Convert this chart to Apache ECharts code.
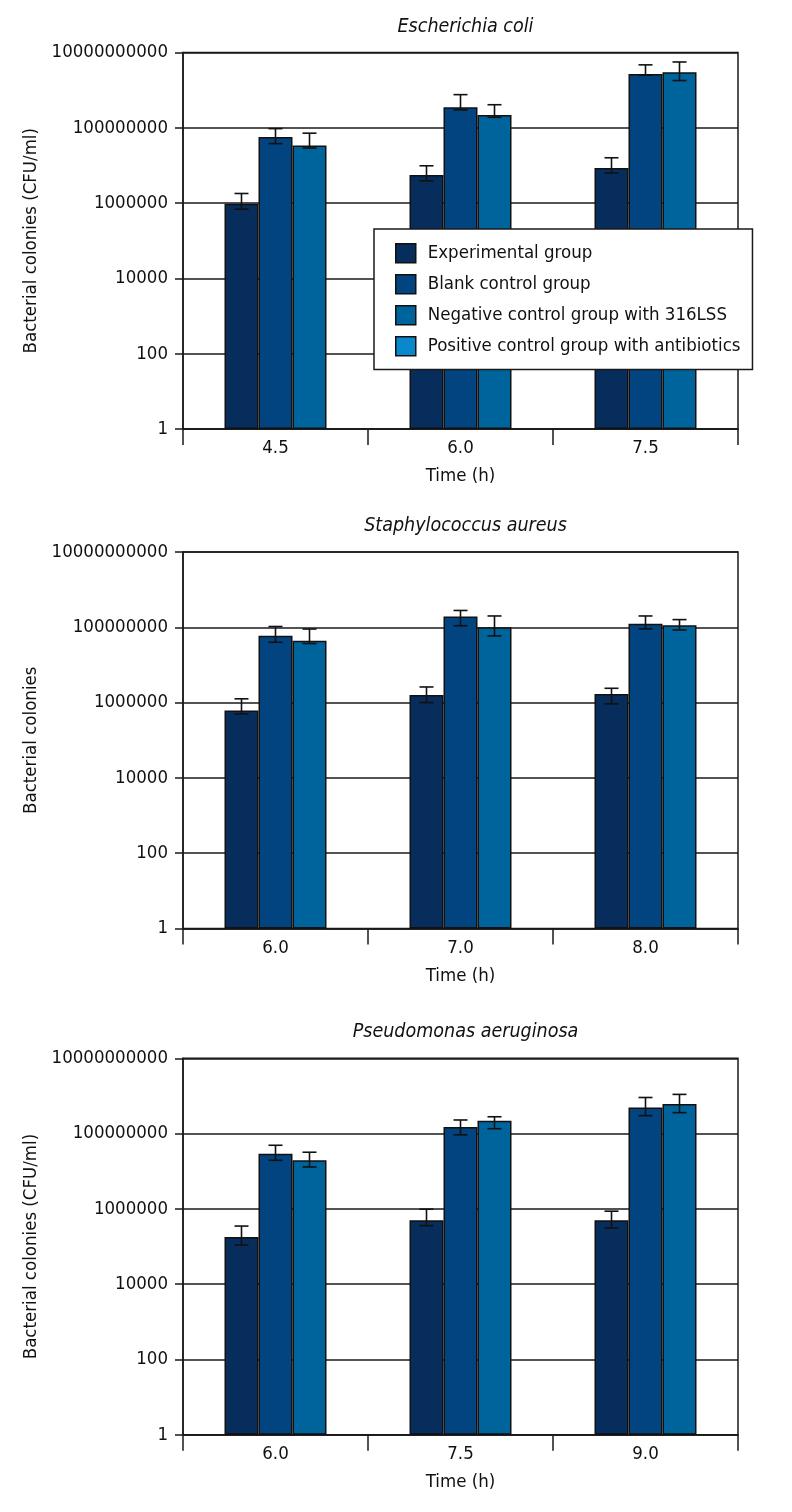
<!DOCTYPE html>
<html>
<head>
<meta charset="utf-8">
<script src="https://cdn.jsdelivr.net/npm/echarts@6/dist/echarts.min.js"></script>
<style>
html,body{margin:0;padding:0;background:#fff;}
#chart{width:792px;height:1512px;}
</style>
</head>
<body>
<div id="chart"></div>
<script>
// ---------- data ----------
const seriesNames = ['Experimental group', 'Blank control group', 'Negative control group with 316LSS', 'Positive control group with antibiotics'];
const panelTitles = ['Escherichia coli', 'Staphylococcus aureus', 'Pseudomonas aeruginosa'];
const yAxisTitles = ['Bacterial colonies (CFU/ml)', 'Bacterial colonies', 'Bacterial colonies (CFU/ml)'];
const xAxisTitle = 'Time (h)';

const ecoliTimes = ['4.5', '6.0', '7.5'];
const ecoliExperimental = [9.6e5, 5.6e6, 8.5e6];
const ecoliExperimentalHigh = [1.8e6, 9.8e6, 1.6e7];
const ecoliExperimentalLow = [6.9e5, 3.9e6, 6.3e6];
const ecoliBlank = [5.7e7, 3.5e8, 2.7e9];
const ecoliBlankHigh = [9.5e7, 7.6e8, 4.7e9];
const ecoliBlankLow = [3.8e7, 3.0e8, 2.5e9];
const ecoliNegative = [3.4e7, 2.2e8, 3.0e9];
const ecoliNegativeHigh = [7.2e7, 4.1e8, 5.6e9];
const ecoliNegativeLow = [2.9e7, 1.9e8, 1.8e9];

const staphTimes = ['6.0', '7.0', '8.0'];
const staphExperimental = [6.2e5, 1.6e6, 1.7e6];
const staphExperimentalHigh = [1.26e6, 2.6e6, 2.4e6];
const staphExperimentalLow = [5.0e5, 1.0e6, 9.3e5];
const staphBlank = [6.0e7, 1.95e8, 1.25e8];
const staphBlankHigh = [1.05e8, 2.8e8, 2.0e8];
const staphBlankLow = [4.0e7, 1.1e8, 9.1e7];
const staphNegative = [4.4e7, 1.0e8, 1.13e8];
const staphNegativeHigh = [9.0e7, 2.0e8, 1.6e8];
const staphNegativeLow = [3.7e7, 5.9e7, 8.5e7];

const pseudoTimes = ['6.0', '7.5', '9.0'];
const pseudoExperimental = [1.8e5, 5.0e5, 5.0e5];
const pseudoExperimentalHigh = [3.5e5, 9.8e5, 8.7e5];
const pseudoExperimentalLow = [1.1e5, 3.6e5, 3.1e5];
const pseudoBlank = [2.9e7, 1.5e8, 4.9e8];
const pseudoBlankHigh = [4.9e7, 2.3e8, 9.1e8];
const pseudoBlankLow = [1.95e7, 9.3e7, 3.0e8];
const pseudoNegative = [1.95e7, 2.2e8, 6.1e8];
const pseudoNegativeHigh = [3.2e7, 2.8e8, 1.1e9];
const pseudoNegativeLow = [1.3e7, 1.35e8, 3.6e8];

const yMin = 1, yMax = 1e10, yLogInterval = 2;

// ---------- styling ----------
const FONT = "'Liberation Sans Narrow', 'DejaVu Sans Condensed', 'Arial Narrow', sans-serif";
const FS = 18.5;
const colors = ['#062d5b', '#02447f', '#00649c', '#0a88cc'];
const BAR_W = 34;
const gridTops = [52.5, 552, 1058.3];
const GRID_H = 376.5;
const GRID_LEFT = 183, GRID_RIGHT = 54;

const panels = [
  { cats: ecoliTimes, vals: [ecoliExperimental, ecoliBlank, ecoliNegative],
    hi: [ecoliExperimentalHigh, ecoliBlankHigh, ecoliNegativeHigh],
    lo: [ecoliExperimentalLow, ecoliBlankLow, ecoliNegativeLow] },
  { cats: staphTimes, vals: [staphExperimental, staphBlank, staphNegative],
    hi: [staphExperimentalHigh, staphBlankHigh, staphNegativeHigh],
    lo: [staphExperimentalLow, staphBlankLow, staphNegativeLow] },
  { cats: pseudoTimes, vals: [pseudoExperimental, pseudoBlank, pseudoNegative],
    hi: [pseudoExperimentalHigh, pseudoBlankHigh, pseudoNegativeHigh],
    lo: [pseudoExperimentalLow, pseudoBlankLow, pseudoNegativeLow] }
];

const grids = [], xAxes = [], yAxes = [], titles = [], series = [];

function renderErr(params, api) {
  const i = api.value(0), lo = api.value(1), hi = api.value(2), s = api.value(3);
  const pLo = api.coord([i, lo]);
  const pHi = api.coord([i, hi]);
  const x = pLo[0] + (s - 1) * BAR_W;
  const cap = 7;
  const st = { stroke: '#111', lineWidth: 1.6 };
  return {
    type: 'group',
    children: [
      { type: 'line', shape: { x1: x, y1: pLo[1], x2: x, y2: pHi[1] }, style: st },
      { type: 'line', shape: { x1: x - cap, y1: pHi[1], x2: x + cap, y2: pHi[1] }, style: st },
      { type: 'line', shape: { x1: x - cap, y1: pLo[1], x2: x + cap, y2: pLo[1] }, style: st }
    ]
  };
}

panels.forEach((p, k) => {
  grids.push({ left: GRID_LEFT, right: GRID_RIGHT, top: gridTops[k], height: GRID_H,
    show: true, borderColor: '#1a1a1a', borderWidth: 1.5, backgroundColor: 'transparent' });
  titles.push({ text: panelTitles[k], left: GRID_LEFT + (792 - GRID_LEFT - GRID_RIGHT) / 2, textAlign: 'center',
    top: gridTops[k] - 41,
    textStyle: { fontFamily: FONT, fontStyle: 'italic', fontWeight: 'normal', fontSize: 19.5, color: '#111' } });
  xAxes.push({ type: 'category', gridIndex: k, data: p.cats,
    name: xAxisTitle, nameLocation: 'middle', nameGap: 38,
    nameTextStyle: { fontFamily: FONT, fontSize: FS, color: '#111' },
    axisLine: { lineStyle: { color: '#1a1a1a', width: 1.5 } },
    axisTick: { show: true, inside: false, length: 16, alignWithLabel: false, lineStyle: { color: '#1a1a1a', width: 1.5 } },
    axisLabel: { fontFamily: FONT, fontSize: FS, color: '#111', margin: 10 },
    splitLine: { show: false } });
  yAxes.push({ type: 'log', logBase: 10, gridIndex: k, min: yMin, max: yMax, interval: yLogInterval,
    name: yAxisTitles[k], nameLocation: 'middle', nameRotate: 90, nameGap: 141,
    nameTextStyle: { fontFamily: FONT, fontSize: FS, color: '#111' },
    axisLine: { show: true, lineStyle: { color: '#1a1a1a', width: 1.5 } },
    axisTick: { show: true, length: 8, lineStyle: { color: '#1a1a1a', width: 1.5 } },
    axisLabel: { fontFamily: FONT, fontSize: FS, color: '#111', margin: 15,
      formatter: v => Number(v).toFixed(0) },
    splitLine: { show: true, lineStyle: { color: '#1a1a1a', width: 1.5 } },
    minorTick: { show: false }, minorSplitLine: { show: false } });
  for (let s = 0; s < 3; s++) {
    series.push({ type: 'bar', name: seriesNames[s], xAxisIndex: k, yAxisIndex: k,
      data: p.vals[s], barWidth: BAR_W, barGap: '0%',
      itemStyle: { color: colors[s], borderColor: '#111', borderWidth: 1.5 },
      emphasis: { disabled: true }, z: 2 });
  }
  series.push({ type: 'line', name: seriesNames[3], xAxisIndex: k, yAxisIndex: k, data: [],
    itemStyle: { color: colors[3] }, lineStyle: { color: colors[3] } });
  const errData = [];
  for (let s = 0; s < 3; s++) {
    p.cats.forEach((c, i) => errData.push([i, p.lo[s][i], p.hi[s][i], s]));
  }
  series.push({ type: 'custom', name: 'error', xAxisIndex: k, yAxisIndex: k,
    renderItem: renderErr, data: errData, encode: { x: 0, y: [1, 2] }, z: 5, silent: true });
});

const chart = echarts.init(document.getElementById('chart'), null, { renderer: 'canvas' });
chart.setOption({
  animation: false,
  backgroundColor: '#fff',
  title: titles,
  legend: {
    data: seriesNames.map((n, i) => ({ name: n, icon: 'rect',
      itemStyle: { color: colors[i], borderColor: '#111', borderWidth: 1.5 } })),
    orient: 'vertical', left: 374, top: 229,
    backgroundColor: '#fff', borderColor: '#1a1a1a', borderWidth: 1.5,
    padding: [14, 12, 13, 21], itemWidth: 20, itemHeight: 19, itemGap: 10.5,
    textStyle: { fontFamily: FONT, fontSize: FS, color: '#111', padding: [0, 0, 0, 7] }, z: 10
  },
  grid: grids,
  xAxis: xAxes,
  yAxis: yAxes,
  series: series
});
</script>
</body>
</html>
